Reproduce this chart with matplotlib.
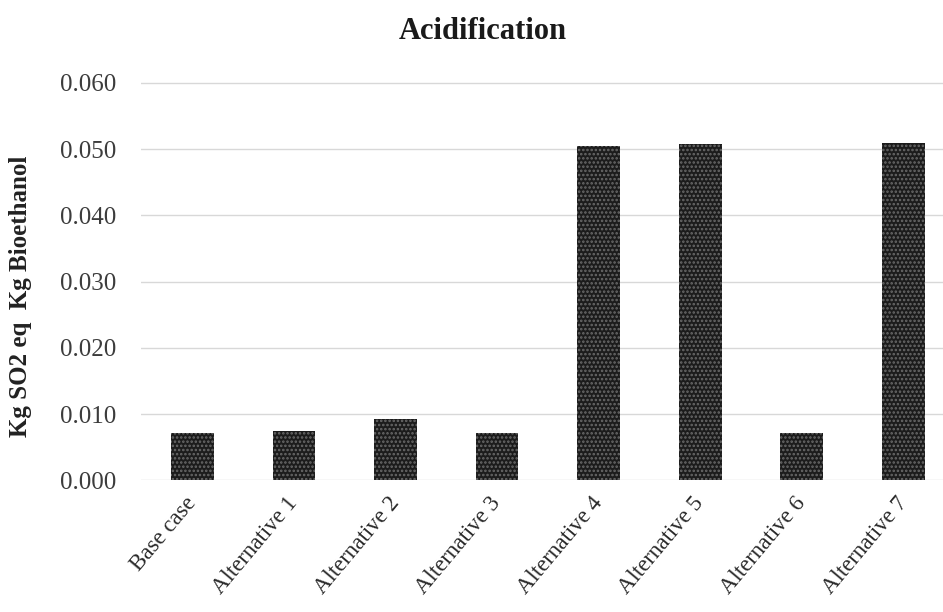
import matplotlib.pyplot as plt

# acidification per scenario, kg SO2 eq / kg bioethanol
scenarios = ["Base case", "Alternative 1", "Alternative 2", "Alternative 3",
             "Alternative 4", "Alternative 5", "Alternative 6", "Alternative 7"]
acidification = [0.0072, 0.0074, 0.0092, 0.0071, 0.0505, 0.0508, 0.0072, 0.0510]
y_ticks = [0.000, 0.010, 0.020, 0.030, 0.040, 0.050, 0.060]

plt.rcParams['font.family'] = ['Liberation Serif', 'DejaVu Serif']
plt.rcParams['hatch.linewidth'] = 1.2

fig = plt.figure(figsize=(9.43, 6.12), dpi=100)
ax = fig.add_axes([0.150, 0.215, 0.850, 0.655])

x = range(len(scenarios))
ax.bar(x, acidification, width=0.42, color='#1c1c1c', edgecolor='#6a6a6a',
       hatch='....', linewidth=0, zorder=3)

ax.set_xlim(-0.5, 7.39)
ax.set_ylim(0, 0.0605)
ax.set_yticks(y_ticks)
ax.set_yticklabels(['%.3f' % v for v in y_ticks], fontsize=18, color='#3c3c3c')
ax.set_xticks(list(x))
ax.set_xticklabels(scenarios, rotation=50, ha='right', va='center',
                   rotation_mode='anchor', fontsize=16.5, color='#2a2a2a')
ax.tick_params(length=0)
ax.tick_params(axis='y', pad=18)
ax.tick_params(axis='x', pad=14)

ax.grid(axis='y', color='#d8d8d8', linewidth=1.0, zorder=0)
for side in ax.spines.values():
    side.set_visible(False)

ax.set_ylabel('Kg SO2 eq  Kg Bioethanol', fontsize=18, fontweight='bold',
              color='#222222')
ax.yaxis.set_label_coords(-0.136, 0.46)
fig.text(0.512, 0.948, 'Acidification', fontsize=22, fontweight='bold',
         color='#1a1a1a', ha='center', va='center')

fig.savefig('out.png', dpi=100)
